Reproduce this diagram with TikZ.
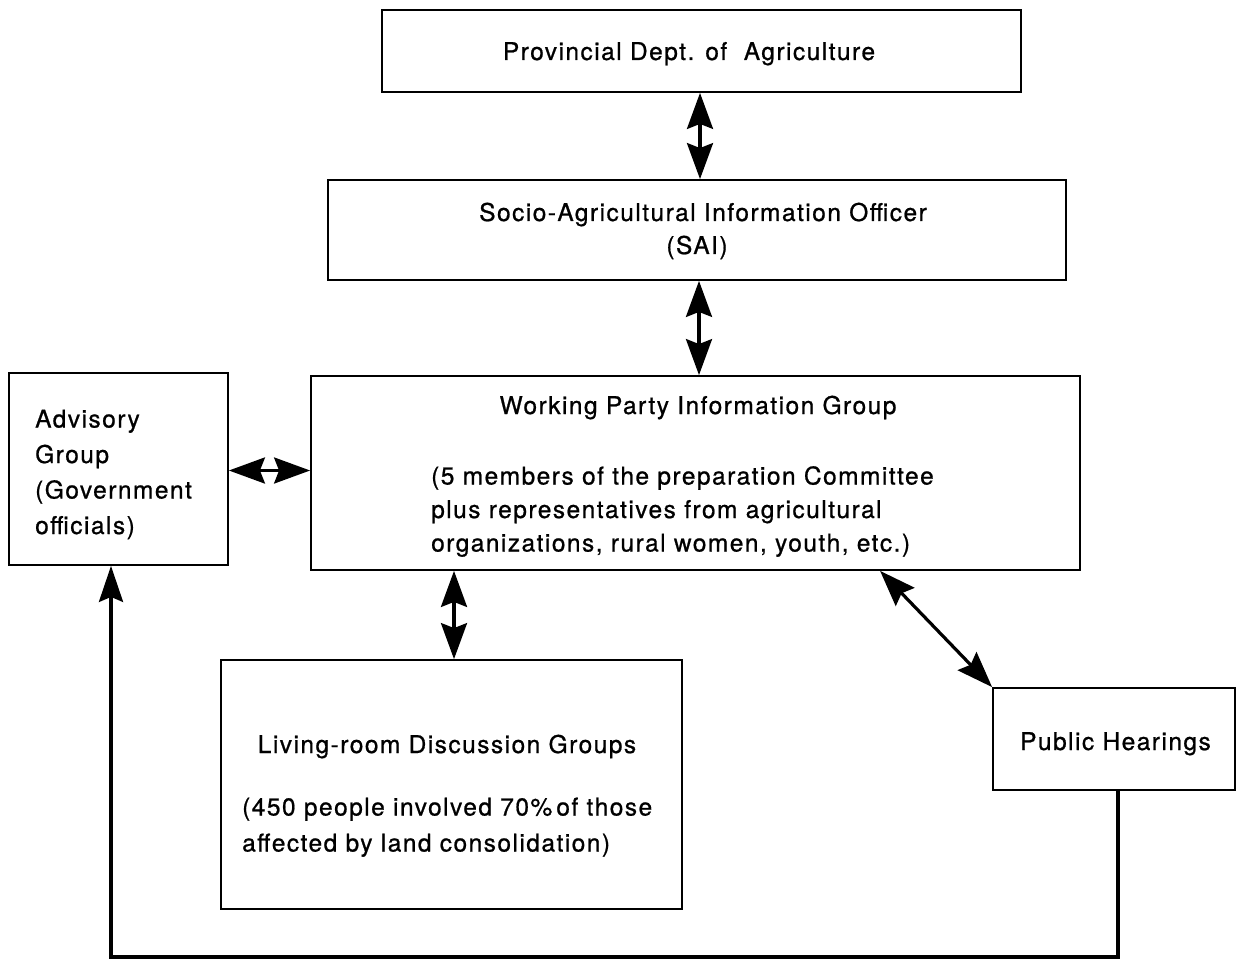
\documentclass[tikz,border=0pt]{standalone}
\usepackage{fontspec}
\setmainfont{TeX Gyre Heros}[LetterSpace=6,FakeBold=0.8]
\usetikzlibrary{arrows.meta}
\begin{document}
\begin{tikzpicture}[x=1pt,y=-1pt,
  box/.style={draw, line width=1.8pt, inner sep=0pt},
  txt/.style={font=\fontsize{24.5}{35}\selectfont, inner sep=0pt},
  link/.style={line width=3.2pt, {Stealth[length=36pt,width=26pt,inset=5pt]}-{Stealth[length=36pt,width=26pt,inset=5pt]}},
  feed/.style={line width=3.4pt, -{Stealth[length=36pt,width=24pt,inset=5pt]}},
]
\useasboundingbox (0,0) rectangle (1237,960);

% boxes
\node[box, minimum width=639pt, minimum height=82pt]  (prov) at (701.5,51) {};
\node[box, minimum width=738pt, minimum height=100pt] (sai)  at (697,230) {};
\node[box, minimum width=769pt, minimum height=194pt] (wp)   at (695.5,473) {};
\node[box, minimum width=219pt, minimum height=192pt] (adv)  at (118.5,469) {};
\node[box, minimum width=461pt, minimum height=249pt] (liv)  at (451.5,784.5) {};
\node[box, minimum width=242pt, minimum height=102pt] (pub)  at (1114,739) {};

% labels
\node[txt, anchor=base] (provt) at (689,60) {Provincial Dept. of\ \ Agriculture};

\node[txt, anchor=base] (sait1) at (703,221) {Socio-Agricultural Information Officer};
\node[txt, anchor=base] (sait2) at (697,254) {(SAI)};

\node[txt, anchor=base] (wpt0) at (698,414) {Working Party Information Group};
\node[txt, anchor=base west] (wpt1) at (431,484.5) {(5 members of the preparation Committee};
\node[txt, anchor=base west] (wpt2) at (431,518) {plus representatives from agricultural};
\node[txt, anchor=base west] (wpt3) at (431,551.5) {organizations, rural women, youth, etc.)};

\node[txt, anchor=base west] (advt1) at (35,427.5) {Advisory};
\node[txt, anchor=base west] (advt2) at (35,463) {Group};
\node[txt, anchor=base west] (advt3) at (35,498.5) {(Government};
\node[txt, anchor=base west] (advt4) at (35,534) {officials)};

\node[txt, anchor=base] (livt0) at (447,753) {Living-room\ Discussion Groups};
\node[txt, anchor=base west] (livt1) at (242,815.5) {(450 people involved 70\%\,of those};
\node[txt, anchor=base west] (livt2) at (242,851.5) {affected by land consolidation)};

\node[txt, anchor=base] (pubt) at (1115.5,750) {Public Hearings};

% two-way links
\draw[link] ([xshift=-1.5pt]prov.south) -- ([xshift=-1.5pt]prov.south |- sai.north);
\draw[link] ([xshift=2pt]sai.south) -- ([xshift=2pt]sai.south |- wp.north);
\draw[link] ([yshift=-1.5pt]adv.east) -- ([yshift=-1.5pt]adv.east -| wp.west);
\draw[link] ([xshift=2.5pt]liv.north |- wp.south) -- ([xshift=2.5pt]liv.north);
\draw[link] ([xshift=570pt]wp.south west) -- (pub.north west);

% feedback from the public hearings to the advisory group
\coordinate (c1) at (1118,957);
\coordinate (c2) at (111,957);
\draw[feed, line join=miter] (c1 |- pub.south) -- (c1) -- (c2) -- (c2 |- adv.south);
\end{tikzpicture}
\end{document}
